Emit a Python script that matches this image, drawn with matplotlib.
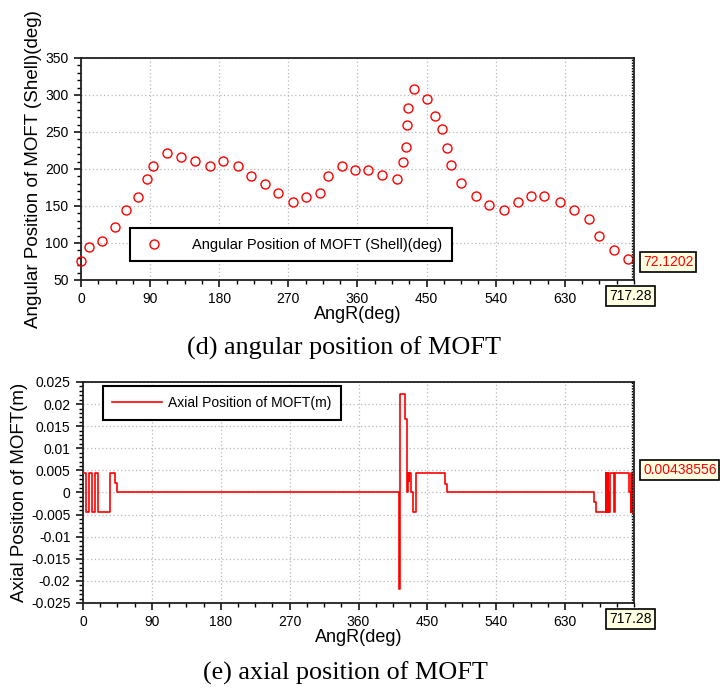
import matplotlib
matplotlib.use("Agg")
import matplotlib.pyplot as plt
from matplotlib.ticker import MultipleLocator, FuncFormatter

# ---------------- data ----------------
# (d) angular position of MOFT (shell), deg
ang_x = [0, 10.3, 27.9, 44.6, 58.3, 73.7, 86.1, 94.3, 111.7, 130.8, 148.7, 167.4,
         185.2, 203.9, 221.7, 239.1, 256.5, 275.6, 292.6, 311.7, 321.3, 339.6,
         357.4, 374, 391.5, 411, 419, 423, 425, 426.4, 433.4, 451, 461.4, 470,
         477, 482.3, 495, 513.8, 531.7, 550.5, 568.4, 585.9, 603.3, 623.9, 641.8,
         661, 674.5, 694.2, 711.7]
ang_y = [76, 95, 103, 121, 144, 162, 186, 204, 222, 216, 211, 204, 211, 204, 191,
         180, 168, 155, 162, 168, 191, 204, 198, 199, 192, 187, 210, 230, 259, 282,
         308, 295, 272, 254, 228, 205, 181, 163, 151, 145, 156, 163, 163, 156, 145,
         133, 109, 91, 79]

# (e) axial position of MOFT, m  (step signal: breakpoints and values)
ax_deg = [0, 3.9, 8.3, 11.8, 16.1, 20.1, 35.8, 42.3, 44.0,
          413.3, 414.2, 420.7, 423.3, 424.2, 425.9, 426.6, 428.6, 431.2, 435.1,
          473.1, 475.3,
          667.6, 670.6, 682.8, 683.6, 684.4, 685.0, 685.6, 686.3, 687.0, 687.6,
          688.3, 693.7, 695.1, 714.0, 715.6, 716.5, 717.5, 718.5, 719.3, 720]
H, L = 0.00438556, -0.00438556
ax_val = [H, L, H, L, H, L, H, 0.0021, 0,
          -0.0218, 0.0222, 0.0167, 0, H, 0.0025, H, 0, L, H,
          0.002, 0,
          -0.0022, L, H, L, 0, L, H, L, 0, L,
          H, L, H, 0, L, H, L, H, L, L]

cursor_x = 717.28
cursor_ang = "72.1202"
cursor_axial = "0.00438556"

ang_label = "Angular Position of MOFT (Shell)(deg)"
axial_label = "Axial Position of MOFT(m)"
x_label = "AngR(deg)"
cap_d = "(d) angular position of MOFT"
cap_e = "(e) axial position of MOFT"
x_ticks = [0, 90, 180, 270, 360, 450, 540, 630]

# ---------------- style ----------------
plt.rcParams['font.family'] = ['Liberation Sans', 'DejaVu Sans']
RED = '#ff0000'
BOXFC = '#ffffe1'

fig = plt.figure(figsize=(7.2, 6.91), dpi=100)
ax1 = fig.add_axes([0.1125, 0.5948, 0.768, 0.3213])
ax2 = fig.add_axes([0.1153, 0.1274, 0.7653, 0.3198])


def style_axes(ax):
    ax.set_xlim(0, 720)
    ax.set_xticks(x_ticks)
    ax.xaxis.set_minor_locator(MultipleLocator(22.5))
    ax.grid(True, which='major', color='#b8b8b8', linestyle=(0, (1, 2)), linewidth=0.9)
    ax.set_axisbelow(True)
    for s in ax.spines.values():
        s.set_linewidth(1.3)
        s.set_color('#202020')
    ax.tick_params(which='major', direction='out', length=5, width=1.1,
                   labelsize=10, pad=4, top=False, right=False)
    ax.tick_params(which='minor', direction='out', length=3, width=1.0,
                   top=False, right=False)
    ax.set_xlabel(x_label, fontsize=13, labelpad=0)
    ax.axvline(cursor_x, color='black', linestyle=(0, (1, 1)), linewidth=1.0, zorder=5)


# ---- top plot ----
ax1.plot(ang_x, ang_y, linestyle='none', marker='o', markersize=6.5,
         markerfacecolor='none', markeredgecolor=RED, markeredgewidth=1.0,
         label=ang_label, clip_on=False, zorder=4)
ax1.set_ylim(50, 350)
ax1.set_yticks(range(50, 351, 50))
ax1.yaxis.set_minor_locator(MultipleLocator(10))
style_axes(ax1)
ax1.set_ylabel(ang_label, fontsize=13.5, labelpad=2)
leg1 = ax1.legend(loc='upper left', bbox_to_anchor=(0.0886, 0.232),
                  fontsize=10.5, frameon=True, fancybox=False, framealpha=1,
                  edgecolor='black', borderpad=0.65, handletextpad=1.6,
                  handlelength=2.0, borderaxespad=0)
leg1.get_frame().set_linewidth(1.5)

# ---- bottom plot ----
ax2.step(ax_deg, ax_val, where='post', color=RED, linewidth=1.2,
         label=axial_label, zorder=4)
ax2.set_ylim(-0.025, 0.025)
yt = [-0.025 + 0.005 * i for i in range(11)]
ax2.set_yticks(yt)
ax2.yaxis.set_major_formatter(FuncFormatter(lambda v, p: f"{round(v, 4):g}" if abs(v) > 1e-9 else "0"))
ax2.yaxis.set_minor_locator(MultipleLocator(0.001))
style_axes(ax2)
ax2.set_ylabel(axial_label, fontsize=13.5, labelpad=2)
leg2 = ax2.legend(loc='upper left', bbox_to_anchor=(0.0355, 0.98),
                  fontsize=10, frameon=True, fancybox=False, framealpha=1,
                  edgecolor='black', borderpad=0.7, handletextpad=0.4,
                  handlelength=3.6, borderaxespad=0)
leg2.get_frame().set_linewidth(1.5)

# ---- cursor value boxes ----
bbox = dict(boxstyle='square,pad=0.2', fc=BOXFC, ec='black', lw=1.2)
fig.text(643 / 720, 1 - 262 / 691, cursor_ang, color=RED, fontsize=10,
         ha='left', va='center', bbox=bbox)
fig.text(630.5 / 720, 1 - 296 / 691, f"{cursor_x:g}", color='black', fontsize=10,
         ha='center', va='center', bbox=bbox)
fig.text(643 / 720, 1 - 470 / 691, cursor_axial, color=RED, fontsize=10,
         ha='left', va='center', bbox=bbox)
fig.text(630.5 / 720, 1 - 619 / 691, f"{cursor_x:g}", color='black', fontsize=10,
         ha='center', va='center', bbox=bbox)

# ---- captions ----
fig.text(344 / 720, 1 - 355 / 691, cap_d, family='Liberation Serif', fontsize=18.8,
         ha='center', va='baseline')
fig.text(345 / 720, 1 - 680 / 691, cap_e, family='Liberation Serif', fontsize=18.8,
         ha='center', va='baseline')

fig.savefig('out.png', dpi=100)
